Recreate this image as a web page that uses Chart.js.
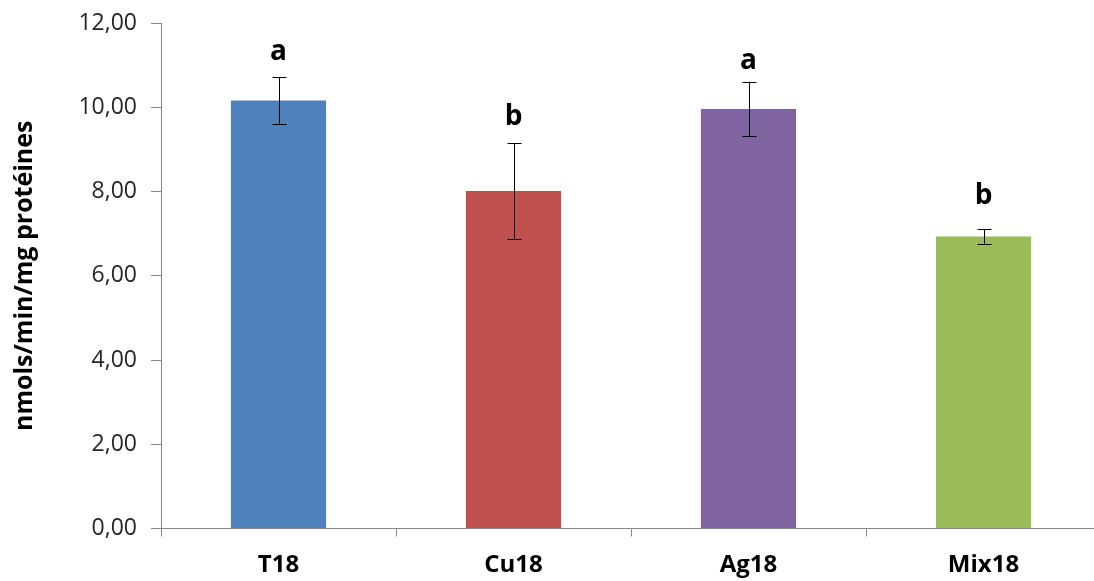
<!DOCTYPE html>
<html>
<head>
<meta charset="utf-8">
<script src="https://cdn.jsdelivr.net/npm/chart.js@4"></script>
<style>
  html, body { margin: 0; padding: 0; background: #fff; overflow: hidden; }
  canvas { display: block; }
</style>
</head>
<body>
<canvas id="myChart" width="1104" height="581"></canvas>
<script>
// datos
const categorias = ["T18", "Cu18", "Ag18", "Mix18"]
const valores = [10.16, 8.01, 9.96, 6.93]
const errores = [0.55, 1.14, 0.65, 0.17]
const letras = ["a", "b", "a", "b"]
const letrasY = [11.11, 9.59, 10.91, 7.71]
const colores = ["#4F81BD", "#C0504D", "#8064A2", "#9BBB59"]
const ticksY = [0, 2, 4, 6, 8, 10, 12]

const fuente = "'Open Sans', Lato, sans-serif"
const gris = "#898989"

// barras de error y letras encima
const extras = {
    id: "extras",
    afterDatasetsDraw(chart) {
        const ctx = chart.ctx
        const y = chart.scales.y
        const meta = chart.getDatasetMeta(0)
        ctx.save()
        ctx.strokeStyle = "#000"
        ctx.lineWidth = 1
        meta.data.forEach((bar, i) => {
            const x = Math.round(bar.x) + 0.5
            const top = y.getPixelForValue(valores[i] + errores[i])
            const bot = y.getPixelForValue(valores[i] - errores[i])
            ctx.beginPath()
            ctx.moveTo(x, top)
            ctx.lineTo(x, bot)
            ctx.moveTo(x - 7, Math.round(top) + 0.5)
            ctx.lineTo(x + 7, Math.round(top) + 0.5)
            ctx.moveTo(x - 7, Math.round(bot) + 0.5)
            ctx.lineTo(x + 7, Math.round(bot) + 0.5)
            ctx.stroke()

            ctx.fillStyle = "#000"
            ctx.font = "bold 28px " + fuente
            ctx.textAlign = "center"
            ctx.textBaseline = "alphabetic"
            ctx.fillText(letras[i], bar.x, y.getPixelForValue(letrasY[i]))
        })
        ctx.restore()
    }
}

const config = {
    type: "bar",
    data: {
        labels: categorias,
        datasets: [{
            data: valores,
            backgroundColor: colores,
            borderWidth: 0,
            barPercentage: 1,
            categoryPercentage: 0.405
        }]
    },
    options: {
        responsive: false,
        animation: false,
        layout: { padding: { top: 23, left: 0, right: 3, bottom: 0 } },
        plugins: {
            legend: { display: false },
            tooltip: { enabled: false }
        },
        scales: {
            x: {
                grid: {
                    offset: true,
                    drawOnChartArea: false,
                    drawTicks: true,
                    tickLength: 8,
                    color: gris
                },
                border: { color: gris, width: 1 },
                ticks: {
                    color: "#000",
                    padding: 14,
                    font: { family: fuente, size: 24, weight: "bold" }
                },
                afterFit(scale) { scale.height = 52.5 }
            },
            y: {
                min: 0,
                max: 12,
                afterBuildTicks(scale) {
                    scale.ticks = ticksY.map(v => ({ value: v }))
                },
                grid: {
                    drawOnChartArea: false,
                    drawTicks: true,
                    tickLength: 10,
                    color: gris
                },
                border: { color: gris, width: 1 },
                ticks: {
                    color: "#262626",
                    padding: 14,
                    font: { family: fuente, size: 23 },
                    callback: v => v.toFixed(2).replace(".", ",")
                },
                title: {
                    display: true,
                    text: "nmols/min/mg protéines",
                    color: "#000",
                    padding: { top: 10, bottom: 0 },
                    font: { family: fuente, size: 25, weight: "bold" }
                },
                afterFit(scale) {
                    scale.width = 161
                    scale.paddingTop = 0
                    scale.paddingBottom = 0
                }
            }
        }
    },
    plugins: [extras]
}

new Chart(document.getElementById("myChart"), config)
</script>
</body>
</html>
